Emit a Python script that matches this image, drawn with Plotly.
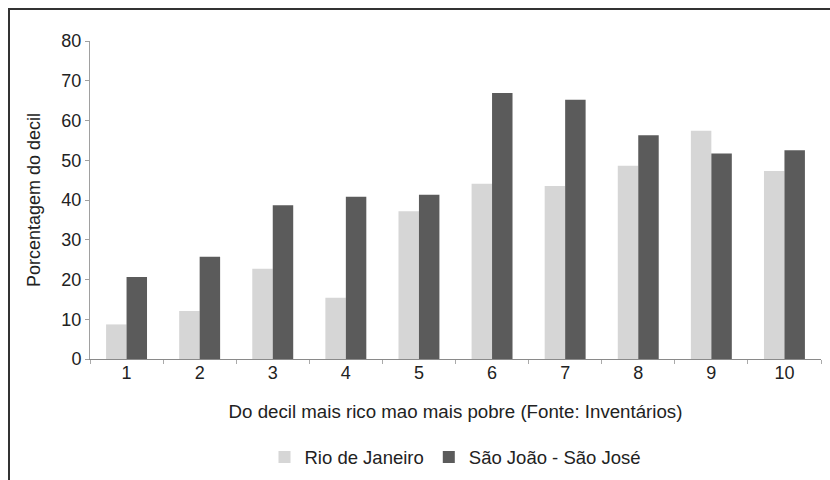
import plotly.graph_objects as go

deciles = ["1", "2", "3", "4", "5", "6", "7", "8", "9", "10"]
rio = [8.7, 12.1, 22.7, 15.4, 37.2, 44.1, 43.5, 48.6, 57.4, 47.3]
sao_joao = [20.6, 25.7, 38.7, 40.8, 41.3, 66.9, 65.2, 56.3, 51.7, 52.5]
y_ticks = [0, 10, 20, 30, 40, 50, 60, 70, 80]

FONT = "Liberation Sans, Arial, sans-serif"

fig = go.Figure()
fig.add_trace(go.Bar(x=deciles, y=rio, name="Rio de Janeiro",
                     marker=dict(color="#d6d6d6", line=dict(width=0))))
fig.add_trace(go.Bar(x=deciles, y=sao_joao, name="São João - São José",
                     marker=dict(color="#5b5b5b", line=dict(width=0))))

fig.update_layout(
    width=830, height=480,
    margin=dict(l=90, r=9, t=41, b=121, autoexpand=False),
    paper_bgcolor="white", plot_bgcolor="white",
    font=dict(family=FONT, size=18, color="#222"),
    barmode="group", bargap=0.44, bargroupgap=0,
    showlegend=True,
    legend=dict(orientation="h", x=0.5, xanchor="center", y=-0.31, yanchor="middle",
                font=dict(size=18.5), itemwidth=30, traceorder="normal"),
    xaxis=dict(type="category", range=[-0.5, 9.5], showline=True, linecolor="#8a8a8a",
               linewidth=1, ticks="outside", tickson="boundaries", ticklen=4,
               tickcolor="#aaaaaa", showgrid=False, zeroline=False, automargin=False,
               tickfont=dict(size=18), ticklabelstandoff=-3,
               title=dict(text="Do decil mais rico mao mais pobre (Fonte: Inventários)",
                          font=dict(size=18.7), standoff=23)),
    yaxis=dict(range=[0, 80], tickvals=y_ticks, showline=True, linecolor="#a0a0a0",
               linewidth=1, ticks="outside", ticklen=4, tickcolor="#a0a0a0",
               showgrid=False, zeroline=False, tickfont=dict(size=18), automargin=False,
               title=dict(text="Porcentagem do decil", font=dict(size=18), standoff=16)),
)

# outer frame (left and top edges visible)
fig.add_shape(type="rect", xref="paper", yref="paper",
              x0=(9 - 90) / 731, x1=1.2, y0=-0.5, y1=1 + (41 - 9) / 318,
              line=dict(color="#333333", width=2), fillcolor="rgba(0,0,0,0)", layer="below")

fig.write_html("out.html", config={"displayModeBar": False},
               post_script="document.body.style.margin='0';")
